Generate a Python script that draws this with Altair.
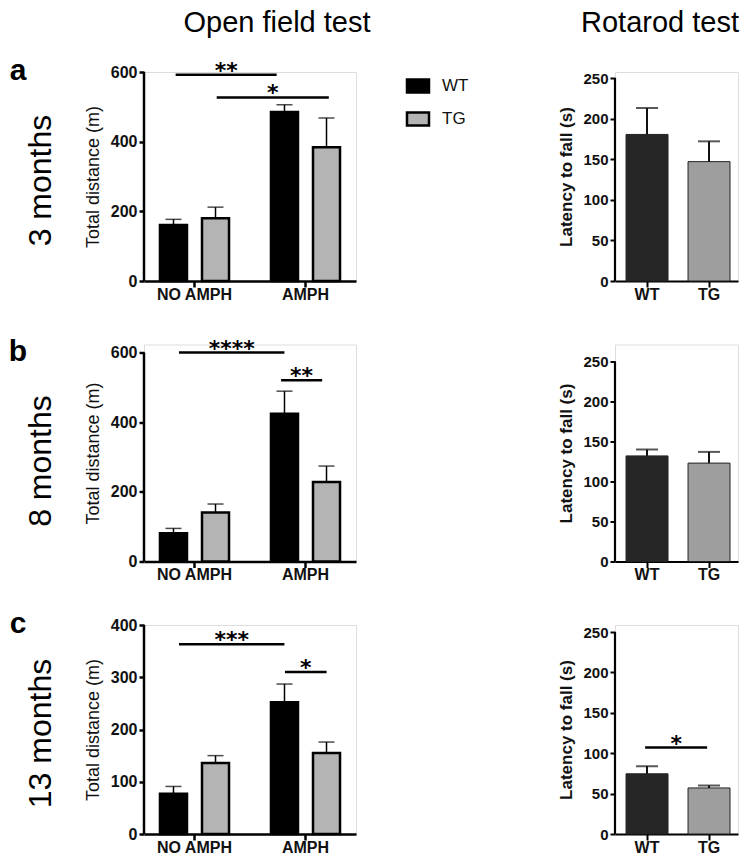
import altair as alt
import pandas as pd

# ---------------- data ----------------
panel_letters = ["a", "b", "c"]
ages = ["3 months", "8 months", "13 months"]
column_titles = ["Open field test", "Rotarod test"]
treatments = ["NO AMPH", "AMPH"]
genotypes = ["WT", "TG"]

# Open field test: total distance (m); order [NO AMPH, AMPH]
of_wt_mean = [[161, 485], [81, 424], [77, 252]]
of_wt_sem = [[16, 21], [14, 65], [14, 35]]
of_tg_mean = [[180, 384], [141, 228], [136, 155]]
of_tg_sem = [[32, 84], [24, 46], [14, 21]]
of_ymax = [600, 600, 400]
of_yticks = [[0, 200, 400, 600], [0, 200, 400, 600], [0, 100, 200, 300, 400]]

# significance brackets (treatment axis: 0 = NO AMPH, 1 = AMPH)
of_sig_label = [["**", "*"], ["****", "**"], ["***", "*"]]
of_sig_start = [[-0.17, 0.20], [-0.14, 0.78], [-0.14, 0.815]]
of_sig_end = [[0.74, 1.21], [0.81, 1.15], [0.81, 1.19]]
of_sig_y = [[592, 527], [600, 520], [363, 310]]

# Rotarod test: latency to fall (s); order [WT, TG]
rr_mean = [[180.5, 147], [132, 123], [74.5, 57]]
rr_sem = [[32.5, 25], [8, 14], [9.5, 3]]
rr_ymax = 250
rr_yticks = [0, 50, 100, 150, 200, 250]
rr_sig_label = [[], [], ["*"]]
rr_sig_start = [[], [], [-0.03]]
rr_sig_end = [[], [], [0.97]]
rr_sig_y = [[], [], [107]]

# ---------------- layout ----------------
FONT = "Liberation Sans"
LW, RW = 212, 123
row_h = [209, 217, 209]          # height of each row of panels
left_pad = [0, 8, 0]             # empty pixels above the top tick (left panels)
right_pad = [6, 17, 7]           # same for right panels
TITLE_Y = -40


def axis_rule(ymax, yscale, yaxis, width):
    return alt.Chart(pd.DataFrame({"y0": [0], "y1": [ymax]})).mark_rule(
        color="black", strokeWidth=width).encode(
        x=alt.value(0), y=alt.Y("y0:Q", scale=yscale, axis=yaxis), y2="y1:Q")


def label_text(text, x, y, **kw):
    return alt.Chart(pd.DataFrame({"t": [text]})).mark_text(
        font=FONT, color="black", **kw).encode(text="t:N", x=alt.value(x), y=alt.value(y))


def left_chart(i):
    rows = []
    for t_i, t in enumerate(treatments):
        rows.append(dict(treatment=t, genotype="WT", mean=of_wt_mean[i][t_i],
                         top=of_wt_mean[i][t_i] + of_wt_sem[i][t_i]))
        rows.append(dict(treatment=t, genotype="TG", mean=of_tg_mean[i][t_i],
                         top=of_tg_mean[i][t_i] + of_tg_sem[i][t_i]))
    df = pd.DataFrame(rows)
    H = row_h[i]
    pad = left_pad[i]
    dmax = of_ymax[i] * H / (H - pad)
    yscale = alt.Scale(domain=[0, dmax], nice=False)
    yaxis = alt.Axis(values=of_yticks[i], title="Total distance (m)", titleFontSize=18,
                     titleFontWeight="normal", titleFont=FONT, titleColor="#111",
                     titlePadding=8,
                     labelFontSize=16, labelFontWeight="bold", labelFont=FONT,
                     labelColor="#111", labelPadding=2, tickSize=5, tickWidth=2.5,
                     tickColor="black", domain=False, grid=False)
    xaxis = alt.Axis(title=None, labelAngle=0, labelFontSize=16, labelFontWeight="bold",
                     labelFont=FONT, labelColor="#111", tickSize=6, tickWidth=2.5,
                     tickColor="black", domainColor="black", domainWidth=2.5, labelPadding=-1)
    xscale = alt.Scale(domain=treatments, paddingInner=0.378, paddingOuter=0.144)
    xenc = alt.X("treatment:N", sort=treatments, scale=xscale, axis=xaxis)
    xoff = alt.XOffset("genotype:N", sort=genotypes,
                       scale=alt.Scale(domain=genotypes, paddingInner=0.357, paddingOuter=0))
    if i == 0:
        legend = alt.Legend(orient="none", legendX=261.5, legendY=1.5, title=None,
                            symbolType="M-1,-0.6H1V0.6H-1Z", symbolSize=484,
                            symbolStrokeColor="black", symbolStrokeWidth=2.5,
                            symbolOpacity=1, labelFontSize=17, labelFont=FONT,
                            labelColor="#111", labelOffset=11.5, rowPadding=8, padding=0)
    else:
        legend = None
    base = alt.Chart(df)
    bars = base.mark_bar(stroke="black", strokeWidth=2.5).encode(
        x=xenc, xOffset=xoff,
        y=alt.Y("mean:Q", scale=yscale, axis=yaxis),
        fill=alt.Fill("genotype:N", sort=genotypes,
                      scale=alt.Scale(domain=genotypes, range=["#000000", "#b4b4b4"]),
                      legend=legend))
    err = base.mark_rule(color="black", strokeWidth=1.5).encode(
        x=xenc, xOffset=xoff, y=alt.Y("mean:Q", scale=yscale, axis=yaxis), y2="top:Q")
    cap = base.mark_tick(color="black", thickness=1.5, size=16).encode(
        x=xenc, xOffset=xoff, y=alt.Y("top:Q", scale=yscale, axis=yaxis))
    band_layer = alt.layer(bars, err, cap)

    sig_df = pd.DataFrame({"label": of_sig_label[i], "x1": of_sig_start[i],
                           "x2": of_sig_end[i], "y": of_sig_y[i]})
    sig_df["xm"] = (sig_df["x1"] + sig_df["x2"]) / 2
    qx = alt.Scale(domain=[-0.455, 1.455], nice=False, zero=False)
    sig_line = alt.Chart(sig_df).mark_rule(color="black", strokeWidth=2.5).encode(
        x=alt.X("x1:Q", scale=qx, axis=None), x2="x2:Q",
        y=alt.Y("y:Q", scale=yscale, axis=yaxis))
    sig_text = alt.Chart(sig_df).mark_text(font="DejaVu Sans", fontWeight="bold", fontSize=22,
                                           baseline="alphabetic", dy=3, color="black").encode(
        x=alt.X("xm:Q", scale=qx, axis=None),
        y=alt.Y("y:Q", scale=yscale, axis=yaxis), text="label:N")
    sig_layer = alt.layer(sig_line, sig_text, axis_rule(of_ymax[i], yscale, yaxis, 2.5))

    texts = [
        label_text(panel_letters[i], -126, pad + 8, fontSize=30, fontWeight="bold",
                   baseline="alphabetic", align="center"),
        label_text(ages[i], -103, pad + (H - pad) / 2 + 4, fontSize=32, angle=270,
                   baseline="middle", align="center"),
    ]
    if i == 0:
        texts.append(label_text(column_titles[0], 133, TITLE_Y, fontSize=29,
                                baseline="alphabetic", align="center"))
    ch = alt.layer(band_layer, sig_layer, *texts).resolve_scale(x="independent")
    return ch.properties(width=LW, height=H)


def right_chart(i):
    df = pd.DataFrame({"genotype": genotypes, "mean": rr_mean[i],
                       "top": [m + s for m, s in zip(rr_mean[i], rr_sem[i])]})
    H = row_h[i]
    pad = right_pad[i]
    dmax = rr_ymax * H / (H - pad)
    yscale = alt.Scale(domain=[0, dmax], nice=False)
    yaxis = alt.Axis(values=rr_yticks, title="Latency to fall (s)", titleFontSize=17,
                     titleFontWeight="bold", titleFont=FONT, titleColor="#111", titlePadding=7,
                     labelFontSize=15, labelFontWeight="bold", labelFont=FONT, labelColor="#111",
                     labelPadding=2, tickSize=5, tickWidth=2, tickColor="black",
                     domain=False, grid=False)
    xaxis = alt.Axis(title=None, labelAngle=0, labelFontSize=16, labelFontWeight="bold",
                     labelFont=FONT, labelColor="#111", tickSize=6, tickWidth=2,
                     tickColor="black", domainColor="black", domainWidth=2.2, labelPadding=-1)
    xscale = alt.Scale(domain=genotypes, paddingInner=0.323, paddingOuter=0.1535, align=0.58)
    xenc = alt.X("genotype:N", sort=genotypes, scale=xscale, axis=xaxis)
    base = alt.Chart(df)
    bars = base.mark_bar(stroke="#222", strokeWidth=1).encode(
        x=xenc, y=alt.Y("mean:Q", scale=yscale, axis=yaxis),
        fill=alt.Fill("genotype:N", sort=genotypes,
                      scale=alt.Scale(domain=genotypes, range=["#262626", "#9e9e9e"]),
                      legend=None))
    err = base.mark_rule(color="#111", strokeWidth=2).encode(
        x=xenc, y=alt.Y("mean:Q", scale=yscale, axis=yaxis), y2="top:Q")
    cap = base.mark_tick(color="#111", thickness=2, size=22).encode(
        x=xenc, y=alt.Y("top:Q", scale=yscale, axis=yaxis))
    extra = [axis_rule(rr_ymax, yscale, yaxis, 2.2)]
    if rr_sig_label[i]:
        sig_df = pd.DataFrame({"label": rr_sig_label[i], "x1": rr_sig_start[i],
                               "x2": rr_sig_end[i], "y": rr_sig_y[i]})
        sig_df["xm"] = (sig_df["x1"] + sig_df["x2"]) / 2
        qx = alt.Scale(domain=[-0.516, 1.468], nice=False, zero=False)
        sl = alt.Chart(sig_df).mark_rule(color="black", strokeWidth=2.5).encode(
            x=alt.X("x1:Q", scale=qx, axis=None), x2="x2:Q",
            y=alt.Y("y:Q", scale=yscale, axis=yaxis))
        st = alt.Chart(sig_df).mark_text(font="DejaVu Sans", fontWeight="bold", fontSize=22,
                                         baseline="alphabetic", dy=3, color="black").encode(
            x=alt.X("xm:Q", scale=qx, axis=None),
            y=alt.Y("y:Q", scale=yscale, axis=yaxis), text="label:N")
        extra += [sl, st]
    layers = [alt.layer(bars, err, cap), alt.layer(*extra)]
    if i == 0:
        layers.append(label_text(column_titles[1], 45, TITLE_Y, fontSize=29,
                                 baseline="alphabetic", align="center"))
    ch = alt.layer(*layers).resolve_scale(x="independent")
    return ch.properties(width=RW, height=H)


panels = []
for i in range(3):
    panels.append(left_chart(i))
    panels.append(right_chart(i))

chart = alt.concat(*panels, columns=2, spacing=alt.RowColnumber(row=63.5, column=259),
                   bounds="flush").resolve_scale(
    fill="independent").resolve_legend(fill="independent").properties(
    padding={"left": 0, "top": 0, "right": 0, "bottom": 0}
).configure_view(stroke=None).configure(font=FONT)

chart.save("out.html", embed_options={"renderer": "svg", "actions": False})
